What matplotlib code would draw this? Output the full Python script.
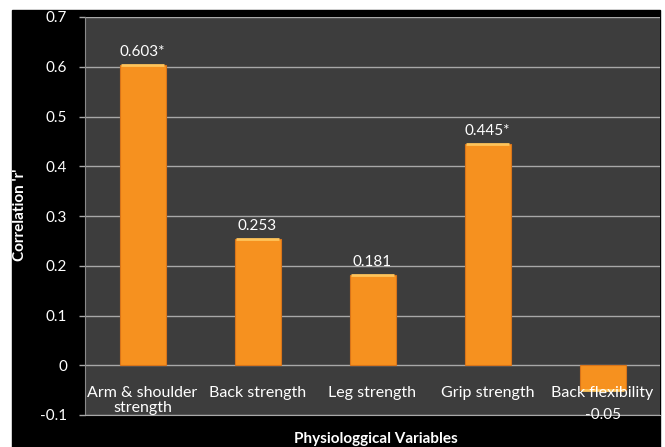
import matplotlib.pyplot as plt
from matplotlib.patches import Rectangle

plt.rcParams['font.family'] = ['Lato', 'DejaVu Sans']

categories = ['Arm & shoulder\nstrength', 'Back strength', 'Leg strength',
              'Grip strength', 'Back flexibility']
values = [0.603, 0.253, 0.181, 0.445, -0.05]
value_labels = ['0.603*', '0.253', '0.181', '0.445*', '-0.05']
yticks = [-0.1, 0, 0.1, 0.2, 0.3, 0.4, 0.5, 0.6, 0.7]
ytick_labels = ['-0.1', '0', '0.1', '0.2', '0.3', '0.4', '0.5', '0.6', '0.7']

fig = plt.figure(figsize=(6.65, 4.47), dpi=100, facecolor='white')
# black chart area inside a thin white border
fig.add_artist(Rectangle((12 / 665, 0), 648 / 665, 437 / 447,
                         transform=fig.transFigure, color='black', zorder=-10))

ax = fig.add_axes([85 / 665, 32 / 447, 575 / 665, 398 / 447])
ax.set_facecolor('#3d3d3d')

x = range(len(values))
ax.bar(x, values, width=0.4, color='#f6911f', edgecolor='#d8741a', linewidth=0.8, zorder=3)
# light highlight at the top of each bar
for i, v in enumerate(values):
    ax.plot([i - 0.19, i + 0.19], [v, v], color='#ffc45a', lw=2, zorder=4,
            solid_capstyle='butt')

for i, (v, lab) in enumerate(zip(values, value_labels)):
    if v >= 0:
        ax.text(i, v + 0.012, lab, ha='center', va='bottom', color='white', fontsize=11)
    else:
        ax.text(i, v - 0.036, lab, ha='center', va='top', color='white', fontsize=11)

for i, c in enumerate(categories):
    ax.text(i, -0.042, c, ha='center', va='top', color='white', fontsize=11.5,
            linespacing=1.05, zorder=5)

ax.set_xlim(-0.5, 4.5)
ax.set_ylim(-0.1, 0.7)
ax.set_yticks(yticks)
ax.set_yticklabels(ytick_labels)
ax.set_xticks([])
ax.grid(axis='y', color='#a8a8a8', linewidth=1, zorder=1)
ax.tick_params(axis='y', colors='white', labelsize=11, length=4, width=1, pad=9,
               color='#a8a8a8')
for s in ['top', 'right']:
    ax.spines[s].set_visible(False)
ax.spines['left'].set_color('#8a8a8a')
ax.spines['bottom'].set_color('#a8a8a8')

fig.text(20 / 665, (447 - 215) / 447, "Correlation 'r'", rotation=90, ha='center',
         va='center', color='white', fontsize=11, fontweight='bold')
fig.text(376 / 665, (447 - 439) / 447, 'Physiologgical Variables', ha='center',
         va='center', color='white', fontsize=11, fontweight='bold')

fig.savefig('out.png', dpi=100, facecolor='white')
